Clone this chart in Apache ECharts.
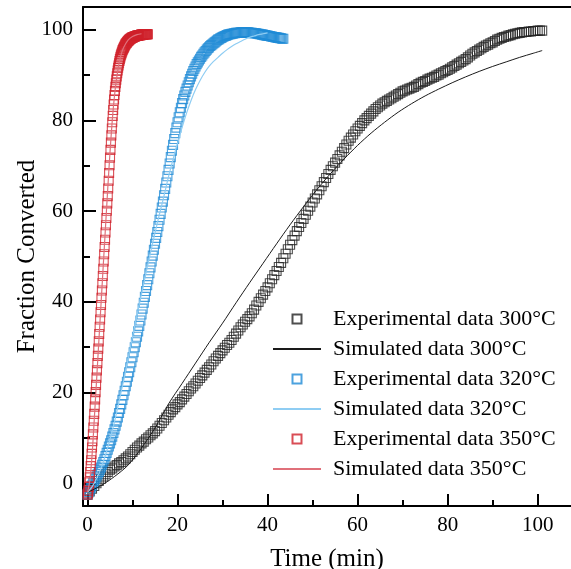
<!DOCTYPE html>
<html>
<head>
<meta charset="utf-8">
<script src="https://cdn.jsdelivr.net/npm/echarts@6/dist/echarts.min.js"></script>
<style>
  html, body { margin: 0; padding: 0; background: #fff; }
  #chart { width: 571px; height: 569px; }
</style>
</head>
<body>
<div id="chart"></div>
<script>
// Axis tick positions
const xTicks = [0, 20, 40, 60, 80, 100];
const xMinorTicks = [10, 30, 50, 70, 90];
const yTicks = [0, 20, 40, 60, 80, 100];
const yMinorTicks = [10, 30, 50, 70, 90];

const seriesNames = [
  'Experimental data 300°C', 'Simulated data 300°C',
  'Experimental data 320°C', 'Simulated data 320°C',
  'Experimental data 350°C', 'Simulated data 350°C'
];

// Experimental runs: fraction converted (%) logged at a fixed interval (min) from t = 0
const step300 = 0.5;
const exp300 = [
  -2.5,-1.8,-1.2,-0.6,0.0,0.5,1.0,1.5,2.0,2.5,
  3.0,3.3,3.7,4.0,4.4,4.7,5.1,5.5,5.9,6.4,
  6.9,7.4,7.9,8.3,8.8,9.2,9.7,10.1,10.6,11.0,
  11.5,12.1,12.7,13.3,13.9,14.5,15.1,15.7,16.3,16.8,
  17.4,17.9,18.5,19.1,19.7,20.3,20.9,21.4,22.0,22.6,
  23.2,23.8,24.4,25.0,25.6,26.2,26.9,27.5,28.1,28.7,
  29.3,29.9,30.5,31.0,31.6,32.3,33.0,33.7,34.4,35.0,
  35.6,36.2,36.8,37.5,38.3,39.2,40.0,40.8,41.6,42.4,
  43.2,44.1,45.0,45.9,46.8,47.7,48.6,49.6,50.6,51.6,
  52.6,53.6,54.6,55.6,56.5,57.4,58.3,59.2,60.1,61.0,
  61.9,62.8,63.7,64.6,65.5,66.4,67.3,68.2,69.1,69.9,
  70.7,71.5,72.3,73.1,73.9,74.7,75.5,76.2,76.9,77.6,
  78.2,78.8,79.4,80.0,80.5,81.0,81.5,82.0,82.5,82.9,
  83.3,83.7,84.0,84.3,84.6,84.9,85.2,85.5,85.8,86.1,
  86.4,86.6,86.8,87.0,87.2,87.4,87.7,88.0,88.3,88.5,
  88.7,89.0,89.2,89.4,89.6,89.9,90.1,90.4,90.6,90.9,
  91.1,91.4,91.7,92.0,92.3,92.6,92.9,93.2,93.5,93.9,
  94.3,94.7,95.0,95.3,95.6,95.9,96.2,96.5,96.7,97.0,
  97.2,97.5,97.8,98.0,98.2,98.4,98.5,98.7,98.8,99.0,
  99.1,99.2,99.3,99.4,99.5,99.5,99.6,99.6,99.7,99.7,
  99.8,99.8,99.8
];

const step320 = 0.25;
const exp320 = [
  -2.5,-2.0,-1.5,-1.0,-0.5,0.0,0.5,1.0,
  1.5,2.0,2.5,3.0,3.5,4.1,4.7,5.3,
  6.0,6.7,7.4,8.1,8.8,9.5,10.3,11.1,
  11.9,12.7,13.6,14.5,15.5,16.4,17.4,18.4,
  19.4,20.4,21.4,22.4,23.5,24.5,25.6,26.7,
  27.8,28.9,30.0,31.1,32.3,33.5,34.7,35.9,
  37.2,38.5,39.8,41.1,42.4,43.7,45.0,46.3,
  47.6,48.9,50.2,51.5,52.8,54.1,55.4,56.7,
  58.1,59.4,60.8,62.1,63.5,64.9,66.3,67.7,
  69.1,70.5,71.9,73.3,74.6,75.9,77.2,78.4,
  79.6,80.7,81.8,82.8,83.8,84.7,85.5,86.3,
  87.0,87.7,88.4,89.1,89.7,90.3,90.9,91.4,
  91.9,92.4,92.8,93.2,93.6,94.0,94.3,94.7,
  95.0,95.3,95.6,95.9,96.1,96.4,96.6,96.8,
  97.0,97.2,97.4,97.6,97.8,97.9,98.1,98.2,
  98.4,98.5,98.6,98.7,98.8,98.9,99.0,99.0,
  99.1,99.1,99.2,99.2,99.3,99.3,99.3,99.3,
  99.4,99.4,99.4,99.4,99.4,99.4,99.4,99.4,
  99.3,99.3,99.3,99.2,99.2,99.2,99.2,99.1,
  99.1,99.0,99.0,98.9,98.9,98.8,98.8,98.7,
  98.7,98.6,98.6,98.5,98.5,98.4,98.4,98.3,
  98.3,98.2,98.2,98.1,98.1,98.0,98.0
];

const step350 = 0.1;
const exp350 = [
  -2.5,-2.2,-1.6,-0.8,0.2,1.3,2.5,3.8,5.1,6.5,
  7.9,9.3,10.8,12.3,13.8,15.3,16.9,18.5,20.1,21.7,
  23.3,24.9,26.5,28.1,29.7,31.3,32.9,34.5,36.1,37.7,
  39.3,40.9,42.5,44.1,45.7,47.3,48.9,50.5,52.1,53.7,
  55.3,56.9,58.5,60.1,61.7,63.3,65.0,66.7,68.4,70.1,
  71.8,73.5,75.1,76.7,78.2,79.6,81.0,82.3,83.5,84.6,
  85.6,86.5,87.4,88.2,89.0,89.7,90.4,91.0,91.6,92.1,
  92.6,93.1,93.5,93.9,94.3,94.6,94.9,95.2,95.5,95.7,
  95.9,96.1,96.3,96.5,96.7,96.9,97.0,97.1,97.3,97.4,
  97.5,97.6,97.7,97.8,97.9,98.0,98.0,98.1,98.2,98.2,
  98.3,98.3,98.4,98.4,98.5,98.5,98.5,98.6,98.6,98.6,
  98.7,98.7,98.7,98.7,98.8,98.8,98.8,98.8,98.8,98.9,
  98.9,98.9,98.9,98.9,98.9,99.0,99.0,99.0,99.0,99.0,
  99.0,99.0,99.0,99.0,99.0
];

// Model curves: time (min) and fraction converted (%)
const simTime300 = [0,3,6,9,12,15,18,21,24,27,30,33,36,39,42,45,48,51,54,57,60,63,66,69,72,75,78,81,84,87,90,93,96,99,101];
const sim300 = [-2,-0.5,1.5,4,7.8,12.2,17.5,22,26.5,31,35.3,39.8,44.2,48.5,52.8,57,61,64.8,68.3,71.5,74.5,77.2,79.6,81.8,83.7,85.4,86.9,88.3,89.6,90.8,91.9,92.9,93.9,94.8,95.4];

const simTime320 = [0,1,2,3,4,5,6,7,8,9,10,11,12,13,14,15,16,17,18,19,20,21,22,23,24,25,26,27,28,29,30,31,32,33,34,35,36,37,38,39,40];
const sim320 = [-2,-0.8,1,3.3,6.2,9.7,13.6,18,22.6,27.4,32.3,37.1,41.8,46.4,50.9,55.2,59.4,63.4,67.6,71.4,75,78.4,81.6,84.4,86.8,88.8,90.5,91.9,93,93.9,94.8,95.6,96.3,96.9,97.4,97.9,98.3,98.6,98.9,99.1,99.3];

const simTime350 = [0,0.5,1,1.5,2,2.5,3,3.5,4,4.5,5,5.5,6,6.5,7,7.5,8,9,10,11,12];
const sim350 = [-2,0.5,6,14,22.5,31,39.5,48,56.5,65,73,80,85.5,89.5,92.5,94.6,96,97.7,98.5,98.9,99.1];

const colors = {
  exp300: '#222222', sim300: '#1a1a1a',
  exp320: '#1f8bd6', sim320: '#8fcdf3',
  exp350: '#d0202b', sim350: '#e0707a'
};

function sampled(step, values) {
  return values.map((v, i) => [+(i * step).toFixed(3), v]);
}
function paired(times, values) {
  return times.map((t, i) => [t, values[i]]);
}

const FONT = 'Liberation Serif';
const X_MIN = -1, X_MAX = 107.4, Y_MIN = -5, Y_MAX = 105;
// square marker for legend entries of measured data (kept square inside the wide legend slot)
const SQUARE_ICON = 'path://M0,0H10V10H0Z';

function expSeries(name, data, color) {
  return {
    name, type: 'scatter', data,
    symbol: 'rect', symbolSize: 9,
    itemStyle: { color: 'rgba(0,0,0,0)', borderColor: color, borderWidth: 1.1, opacity: 0.8 },
    emphasis: { disabled: true },
    z: 2
  };
}
function simSeries(name, data, color, width) {
  return {
    name, type: 'line', data,
    showSymbol: false, symbol: 'none', smooth: 0.3,
    lineStyle: { color, width },
    itemStyle: { color },
    emphasis: { disabled: true },
    z: 3
  };
}

const chart = echarts.init(document.getElementById('chart'), null, { renderer: 'canvas' });

const commonX = { type: 'value', min: X_MIN, max: X_MAX, gridIndex: 0, splitLine: { show: false } };
const commonY = { type: 'value', min: Y_MIN, max: Y_MAX, gridIndex: 0, splitLine: { show: false } };

const legendData = seriesNames.map((name, i) => (i % 2 === 0)
  ? { name, icon: SQUARE_ICON }
  : { name, itemStyle: { opacity: 0 } });

chart.setOption({
  animation: false,
  backgroundColor: '#fff',
  grid: { left: 83, right: 0, top: 7, bottom: 63, containLabel: false, outerBoundsMode: 'none' },
  xAxis: [
    Object.assign({}, commonX, {
      position: 'bottom',
      name: 'Time (min)', nameLocation: 'middle', nameGap: 41, nameMoveOverlap: false,
      nameTextStyle: { fontFamily: FONT, fontSize: 25, color: '#000' },
      axisLine: { onZero: false, lineStyle: { color: '#000', width: 2 } },
      axisTick: { inside: true, length: 12, customValues: xTicks, lineStyle: { color: '#000', width: 2 } },
      axisLabel: { customValues: xTicks, fontFamily: FONT, fontSize: 21, color: '#000', margin: 9 }
    }),
    Object.assign({}, commonX, {
      position: 'bottom',
      axisLine: { show: false, onZero: false },
      axisTick: { inside: true, length: 6, customValues: xMinorTicks, lineStyle: { color: '#000', width: 2 } },
      axisLabel: { show: false }
    }),
    Object.assign({}, commonX, {
      position: 'top',
      axisLine: { onZero: false, lineStyle: { color: '#000', width: 2 } },
      axisTick: { show: false },
      axisLabel: { show: false }
    })
  ],
  yAxis: [
    Object.assign({}, commonY, {
      position: 'left',
      name: 'Fraction Converted', nameLocation: 'middle', nameGap: 43, nameRotate: 90, nameMoveOverlap: false,
      nameTextStyle: { fontFamily: FONT, fontSize: 25, color: '#000' },
      axisLine: { onZero: false, lineStyle: { color: '#000', width: 2 } },
      axisTick: { inside: true, length: 13, customValues: yTicks, lineStyle: { color: '#000', width: 2 } },
      axisLabel: { customValues: yTicks, fontFamily: FONT, fontSize: 21, color: '#000', margin: 10 }
    }),
    Object.assign({}, commonY, {
      position: 'left',
      axisLine: { show: false, onZero: false },
      axisTick: { inside: true, length: 7, customValues: yMinorTicks, lineStyle: { color: '#000', width: 2 } },
      axisLabel: { show: false }
    })
  ],
  legend: {
    orient: 'vertical',
    left: 272, top: 308, padding: 0,
    itemWidth: 48, itemHeight: 9, itemGap: 8,
    selectedMode: false,
    textStyle: { fontFamily: FONT, fontSize: 22, color: '#000', padding: [0, 0, 0, 7], lineHeight: 22 },
    data: legendData
  },
  series: [
    expSeries(seriesNames[0], sampled(step300, exp300), colors.exp300),
    simSeries(seriesNames[1], paired(simTime300, sim300), colors.sim300, 1),
    expSeries(seriesNames[2], sampled(step320, exp320), colors.exp320),
    simSeries(seriesNames[3], paired(simTime320, sim320), colors.sim320, 1.2),
    expSeries(seriesNames[4], sampled(step350, exp350), colors.exp350),
    simSeries(seriesNames[5], paired(simTime350, sim350), colors.sim350, 1.2)
  ]
});
</script>
</body>
</html>
